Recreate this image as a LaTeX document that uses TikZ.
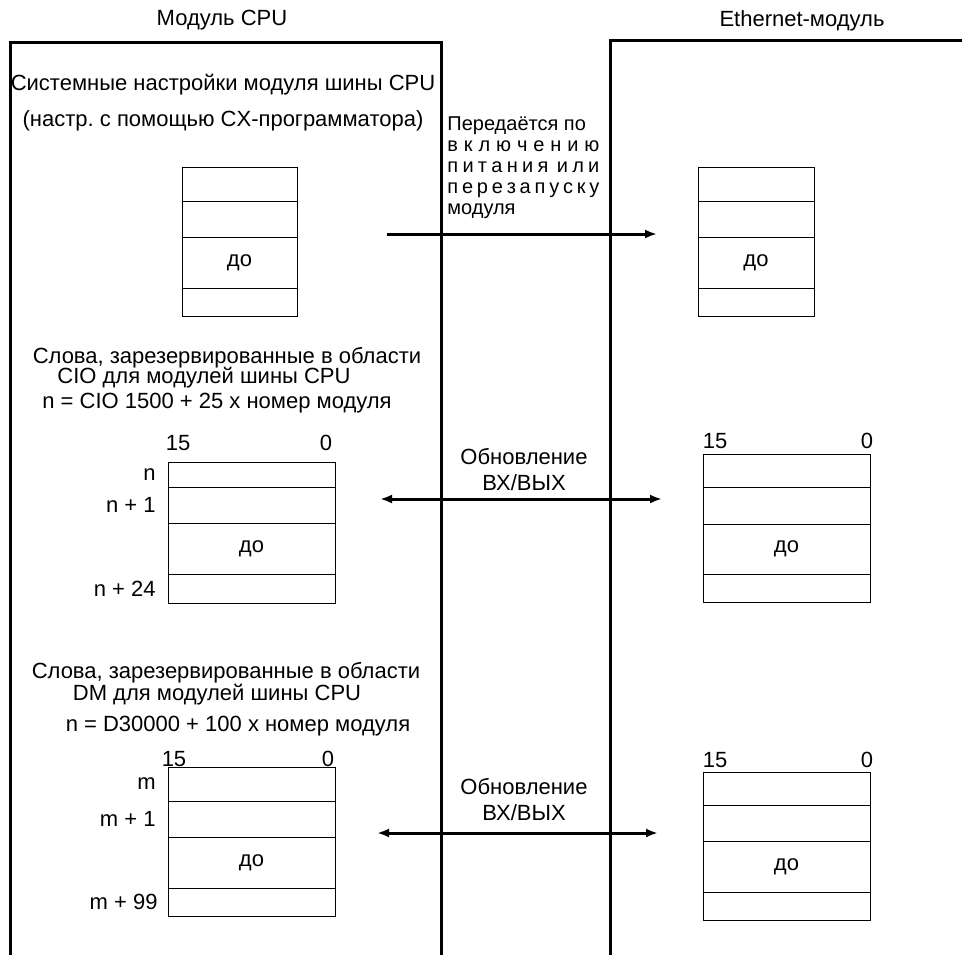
\documentclass[tikz,border=0pt]{standalone}
\usepackage{fontspec}
\setmainfont{Liberation Sans}
\usetikzlibrary{arrows.meta,positioning}
\frenchspacing

\tikzset{
  panel/.style={line width=1.5pt},
  cell/.style={line width=0.5pt},
  flow/.style={line width=1.5pt,-{Latex[length=6pt,width=4.5pt]}},
  flowboth/.style={line width=1.5pt,{Latex[length=6pt,width=4.5pt]}-{Latex[length=6pt,width=4.5pt]}},
  lbl/.style={inner sep=0pt,font=\fontsize{11}{13}\selectfont},
}

% word table: name, x left, x right, five row edges
\newcommand{\wordbox}[8]{%
  \draw[cell] (#2,#4) rectangle (#3,#8);
  \draw[cell] (#2,#5) -- (#3,#5) (#2,#6) -- (#3,#6) (#2,#7) -- (#3,#7);
  \node[lbl] (#1-do) at ({(#2+#3)/2},{(#6+#7)/2}) {до};
  \coordinate (#1-r1) at (#2,{(#4+#5)/2});
  \coordinate (#1-r2) at (#2,{(#5+#6)/2});
  \coordinate (#1-r4) at (#2,{(#7+#8)/2});
}

\begin{document}
\begin{tikzpicture}[x=0.5pt,y=-0.5pt]
    \useasboundingbox (0,0) rectangle (962,955);

    % the two modules
    \node[lbl] (cpu) at (222,20) {Модуль CPU};
    \node[lbl] (eth) at (802,21) {Ethernet-модуль};
    \draw[panel] (10,955) -- (10,42) -- (441,42) -- (441,955);
    \draw[panel] (610,955) -- (610,40) -- (962,40);

    % system settings
    \node[lbl] (sys) at (223,85) {Системные настройки модуля шины CPU};
    \node[lbl] (cx) at (223,121) {(настр. с помощью CX-программатора)};
    \node[lbl,anchor=north west,align=left,font=\fontsize{10}{10.5}\selectfont] (send) at (447,116)
        {Передаётся по\\
         \makebox[76pt][s]{в к л ю ч е н и ю}\\
         \makebox[76pt][s]{п и т а н и я \ и л и}\\
         \makebox[76pt][s]{п е р е з а п у с к у}\\
         модуля};
    \wordbox{sys-l}{182}{297}{167}{201}{237}{288}{316}
    \wordbox{sys-r}{698}{814}{167}{201}{237}{288}{316}
    \coordinate (send-a) at (387,234);
    \coordinate (send-b) at (657,234);
    \draw[flow] (send-a) -- (send-b);

    % CIO area
    \node[lbl] (cio1) at (227,358) {Слова, зарезервированные в области};
    \node[lbl] (cio2) at (204,378) {CIO для модулей шины CPU};
    \node[lbl] (cio3) at (217,403) {n = CIO 1500 + 25 x номер модуля};
    \wordbox{cio-l}{168}{335}{462}{487}{523}{574}{603}
    \wordbox{cio-r}{703}{870}{454}{487}{524}{574}{602}
    \node[lbl] (cio-l15) at (178,443) {15};
    \node[lbl] (cio-l0) at (326,443) {0};
    \node[lbl] (cio-r15) at (715,441) {15};
    \node[lbl] (cio-r0) at (867,441) {0};
    \node[lbl,left=6pt of cio-l-r1] (cio-n) {n};
    \node[lbl,left=6pt of cio-l-r2] (cio-n1) {n + 1};
    \node[lbl,left=6pt of cio-l-r4] (cio-n24) {n + 24};
    \node[lbl,align=center] (cio-upd) at (524,470) {Обновление\\ВХ/ВЫХ};
    \coordinate (cio-a) at (380,499);
    \coordinate (cio-b) at (662,499);
    \draw[flowboth] (cio-a) -- (cio-b);

    % DM area
    \node[lbl] (dm1) at (226,673) {Слова, зарезервированные в области};
    \node[lbl] (dm2) at (217,695) {DM для модулей шины CPU};
    \node[lbl] (dm3) at (238,726) {n = D30000 + 100 x номер модуля};
    \wordbox{dm-l}{168}{335}{767}{801}{837}{888}{916}
    \wordbox{dm-r}{703}{870}{772}{805}{841}{892}{920}
    \node[lbl] (dm-l15) at (174,759) {15};
    \node[lbl] (dm-l0) at (328,759) {0};
    \node[lbl] (dm-r15) at (715,760) {15};
    \node[lbl] (dm-r0) at (867,760) {0};
    \node[lbl,left=6pt of dm-l-r1] (dm-m) {m};
    \node[lbl,left=6pt of dm-l-r2] (dm-m1) {m + 1};
    \node[lbl,left=5pt of dm-l-r4] (dm-m99) {m + 99};
    \node[lbl,align=center] (dm-upd) at (524,800) {Обновление\\ВХ/ВЫХ};
    \coordinate (dm-a) at (377,833);
    \coordinate (dm-b) at (658,833);
    \draw[flowboth] (dm-a) -- (dm-b);
\end{tikzpicture}
\end{document}
